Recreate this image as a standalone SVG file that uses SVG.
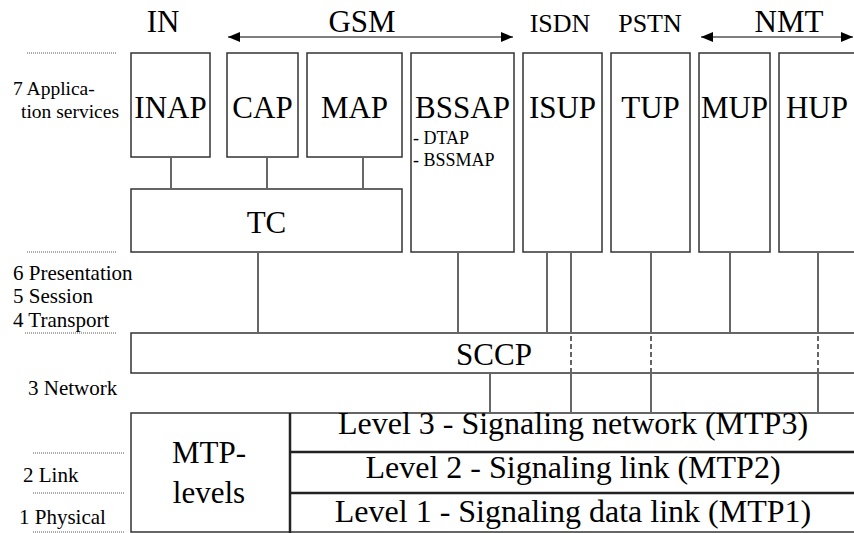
<svg xmlns="http://www.w3.org/2000/svg" width="854" height="533" viewBox="0 0 854 533" font-family="'Liberation Serif', 'Times New Roman', serif">
<style>
text{font-family:"Liberation Serif","Times New Roman",serif;fill:#000}
.big{font-size:31px;text-anchor:middle}
.lvl{font-size:32px;text-anchor:middle}
.top{font-size:31px;text-anchor:middle}
.hdr{font-size:26px;text-anchor:middle}
.lbl{font-size:21px}
.app{font-size:19.5px}
.sub{font-size:18px}
.box{fill:#fff;stroke:#333;stroke-width:1.5}
.thick{stroke:#222;stroke-width:2.5;fill:none}
.dot{stroke:#555;stroke-width:1;stroke-dasharray:1 1;fill:none}
.ln{stroke:#000;stroke-width:1.2;fill:none}
.dash{stroke:#000;stroke-width:1.2;stroke-dasharray:5 3;fill:none}
</style>
<defs>
<marker id="ah" viewBox="0 0 12 10" refX="12" refY="5" markerWidth="12" markerHeight="10" markerUnits="userSpaceOnUse" orient="auto-start-reverse">
<path d="M0,0 L12,5 L0,10 z" fill="#000"/>
</marker>
</defs>
<rect width="854" height="533" fill="#fff"/>

<g id="headers">
<text class="top" x="163" y="32">IN</text>
<text class="top" x="362" y="32" font-size="32">GSM</text>
<text class="hdr" x="560" y="32">ISDN</text>
<text class="hdr" x="650" y="32">PSTN</text>
<text class="top" x="789" y="32">NMT</text>
<line class="ln" x1="228" y1="37" x2="513" y2="37" marker-start="url(#ah)" marker-end="url(#ah)"/>
<line class="ln" x1="701" y1="37" x2="853" y2="37" marker-start="url(#ah)" marker-end="url(#ah)"/>
</g>

<g id="layers">
<line class="dot" x1="27" y1="53" x2="116" y2="53"/>
<text class="app" x="13" y="95">7 Applica-</text>
<text class="app" x="21" y="118">tion services</text>
<line class="dot" x1="27" y1="252" x2="116" y2="252"/>
<text class="lbl" x="13" y="280">6 Presentation</text>
<text class="lbl" x="13" y="303">5 Session</text>
<text class="lbl" x="13" y="327">4 Transport</text>
<line class="dot" x1="25" y1="333" x2="116" y2="333"/>
<text class="lbl" x="28" y="395">3 Network</text>
<line class="dot" x1="33" y1="453" x2="124" y2="453"/>
<text class="lbl" x="23" y="482">2 Link</text>
<line class="dot" x1="33" y1="493" x2="124" y2="493"/>
<text class="lbl" x="19" y="524">1 Physical</text>
<line class="dot" x1="33" y1="532" x2="124" y2="532"/>
</g>

<g id="INAP"><rect class="box" x="131" y="53" width="79" height="104"/><text class="big" x="170.5" y="118">INAP</text></g>
<g id="CAP"><rect class="box" x="227" y="53" width="71" height="104"/><text class="big" x="262.5" y="118">CAP</text></g>
<g id="MAP"><rect class="box" x="307" y="53" width="95" height="104"/><text class="big" x="354.5" y="118">MAP</text></g>
<g id="TC"><rect class="box" x="131" y="189" width="271" height="63"/><text class="big" x="266.5" y="233">TC</text></g>
<g id="BSSAP"><rect class="box" x="411" y="53" width="103" height="199"/><text class="big" x="462.5" y="118" font-size="32">BSSAP</text>
<text class="sub" x="413" y="144">- DTAP</text><text class="sub" x="413" y="166">- BSSMAP</text></g>
<g id="ISUP"><rect class="box" x="523" y="53" width="79" height="199"/><text class="big" x="562.5" y="118">ISUP</text></g>
<g id="TUP"><rect class="box" x="611" y="53" width="79" height="199"/><text class="big" x="650.5" y="118">TUP</text></g>
<g id="MUP"><rect class="box" x="699" y="53" width="71" height="199"/><text class="big" x="734.5" y="118">MUP</text></g>
<g id="HUP"><rect class="box" x="779" y="53" width="90" height="199"/><text class="big" x="817" y="118">HUP</text></g>

<g id="SCCP"><rect class="box" x="131" y="333" width="740" height="40"/><text class="big" x="494" y="365">SCCP</text></g>

<g id="MTP">
<rect class="box" x="131" y="413" width="740" height="119"/>
<line class="thick" x1="290" y1="413" x2="290" y2="533"/>
<line class="thick" x1="290" y1="452" x2="854" y2="452"/>
<line class="thick" x1="290" y1="493" x2="854" y2="493"/>
<text class="big" x="209" y="463">MTP-</text>
<text class="big" x="209" y="503">levels</text>
<text class="lvl" x="573" y="434">Level 3 - Signaling network (MTP3)</text>
<text class="lvl" x="573" y="478">Level 2 - Signaling link (MTP2)</text>
<text class="lvl" x="573" y="522">Level 1 - Signaling data link (MTP1)</text>
</g>

<g id="connectors">
<line class="ln" x1="171" y1="158" x2="171" y2="188"/>
<line class="ln" x1="267" y1="158" x2="267" y2="188"/>
<line class="ln" x1="363" y1="158" x2="363" y2="188"/>
<line class="ln" x1="258" y1="253" x2="258" y2="332"/>
<line class="ln" x1="458" y1="253" x2="458" y2="332"/>
<line class="ln" x1="547" y1="253" x2="547" y2="332"/>
<line class="ln" x1="571" y1="253" x2="571" y2="332"/>
<line class="ln" x1="651" y1="253" x2="651" y2="332"/>
<line class="ln" x1="730" y1="253" x2="730" y2="332"/>
<line class="ln" x1="818" y1="253" x2="818" y2="332"/>
<line class="dash" x1="571" y1="336" x2="571" y2="372"/>
<line class="dash" x1="651" y1="336" x2="651" y2="372"/>
<line class="dash" x1="818" y1="336" x2="818" y2="372"/>
<line class="ln" x1="490" y1="374" x2="490" y2="412"/>
<line class="ln" x1="571" y1="374" x2="571" y2="412"/>
<line class="ln" x1="651" y1="374" x2="651" y2="412"/>
<line class="ln" x1="818" y1="374" x2="818" y2="412"/>
</g>
</svg>
